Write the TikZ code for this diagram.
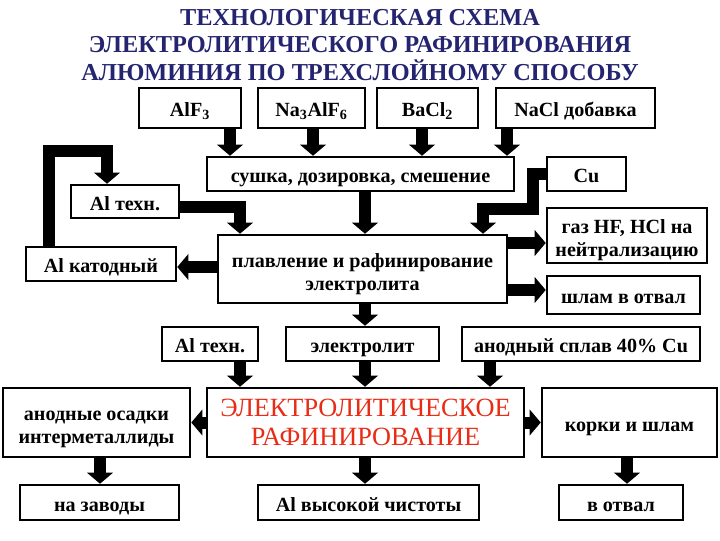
\documentclass[tikz,border=0pt]{standalone}
\usepackage{fontspec}
\setmainfont{Liberation Serif}
\usepackage{xcolor}
\usetikzlibrary{arrows.meta,positioning}
\definecolor{titleblue}{RGB}{36,36,112}
\definecolor{schemered}{RGB}{232,44,22}

\begin{document}
\begin{tikzpicture}[
    x=0.025cm, y=-0.025cm,
    box/.style={rectangle, draw=black, line width=1.8pt, fill=white, inner sep=1pt, align=center, font=\fontsize{14.3}{16.5}\selectfont\bfseries, execute at begin node={\rule{0pt}{1.09em}}, execute at end node={\rule[-0.22em]{0pt}{0.22em}}},
    twoline/.style={execute at begin node={\rule{0pt}{2.34em}}},
    arrow/.style={-{Triangle[length=0.28cm,width=0.66cm,line width=0pt]}, line width=0.3cm, line join=miter},
    title/.style={font=\fontsize{17.3}{19.6}\selectfont\bfseries, text=titleblue, align=center},
    redtext/.style={font=\fontsize{18.7}{20.6}\selectfont, text=schemered, execute at begin node={\rule{0pt}{2.0em}}}
  ]
    \fill[white] (0,0) rectangle (720,540);
    \useasboundingbox (0,0) rectangle (720,540);

    \node[title] (head) at (360,45) {ТЕХНОЛОГИЧЕСКАЯ СХЕМА\\ЭЛЕКТРОЛИТИЧЕСКОГО РАФИНИРОВАНИЯ\\АЛЮМИНИЯ ПО ТРЕХСЛОЙНОМУ СПОСОБУ};

    \node[box, minimum width=2.55cm, minimum height=1cm] (alf) at (190,108) {AlF\textsubscript{3}};
    \node[box, minimum width=2.675cm, minimum height=1cm] (kriolit) at (311.5,108) {Na\textsubscript{3}AlF\textsubscript{6}};
    \node[box, minimum width=2.525cm, minimum height=1cm] (bacl) at (427.5,108) {BaCl\textsubscript{2}};
    \node[box, minimum width=3.975cm, minimum height=1cm] (nacl) at (575.5,108) {NaCl добавка};

    \node[box, minimum width=7.675cm, minimum height=0.85cm] (sushka) at (360.5,174) {сушка, дозировка, смешение};
    \node[box, minimum width=1.975cm, minimum height=0.85cm] (cu) at (586.5,174) {Cu};
    \node[box, minimum width=2.7cm, minimum height=0.825cm] (altop) at (125,201.5) {Al техн.};
    \node[box, minimum width=3.75cm, minimum height=0.85cm] (alkat) at (101,264) {Al катодный};
    \node[box, twoline, minimum width=7.225cm, minimum height=1.7cm] (plav) at (362.5,269) {плавление и рафинирование\\электролита};
    \node[box, twoline, minimum width=4cm, minimum height=1.375cm] (gas) at (627,235.5) {газ HF, HCl на\\нейтрализацию};
    \node[box, minimum width=3.825cm, minimum height=0.95cm] (shlam) at (623.5,295) {шлам в отвал};

    \node[box, minimum width=2.4cm, minimum height=0.85cm] (allow) at (210,344) {Al техн.};
    \node[box, minimum width=3.825cm, minimum height=0.85cm] (elyt) at (362.5,344) {электролит};
    \node[box, minimum width=5.95cm, minimum height=0.85cm] (anod) at (581,344) {анодный сплав 40\% Cu};

    \node[box, redtext, minimum width=7.925cm, minimum height=1.725cm] (refin) at (365.5,422.5) {ЭЛЕКТРОЛИТИЧЕСКОЕ\\РАФИНИРОВАНИЕ};
    \node[box, twoline, minimum width=4.675cm, minimum height=1.725cm] (osad) at (96.5,422.5) {анодные осадки\\интерметаллиды};
    \node[box, minimum width=4.375cm, minimum height=1.725cm] (korki) at (629.5,422.5) {корки и шлам};

    \node[box, minimum width=3.975cm, minimum height=0.875cm] (zavody) at (99.5,502.5) {на заводы};
    \node[box, minimum width=5.525cm, minimum height=0.875cm] (vysok) at (368.5,502.5) {Al высокой чистоты};
    \node[box, minimum width=3.1cm, minimum height=0.875cm] (otval) at (621,502.5) {в отвал};

    \draw[arrow] (230,0 |- alf.south) -- (230,0 |- sushka.north);
    \draw[arrow] (313,0 |- kriolit.south) -- (313,0 |- sushka.north);
    \draw[arrow] (422,0 |- bacl.south) -- (422,0 |- sushka.north);
    \draw[arrow] (507,0 |- nacl.south) -- (507,0 |- sushka.north);

    \draw[arrow] (365,0 |- sushka.south) -- (365,0 |- plav.north);
    \draw[arrow] (cu.west) -| (533,209) -| (483,0 |- plav.north);
    \draw[arrow] ([yshift=-0.14cm]altop.east) -| (240,0 |- plav.north);
    \draw[arrow] (49,0 |- alkat.north) |- (107,151) -- (107,0 |- altop.north);

    \draw[arrow] (plav.west |- 0,267) -- (alkat.east |- 0,267);
    \draw[arrow] (plav.east |- 0,243) -- (gas.west |- 0,243);
    \draw[arrow] (plav.east |- 0,290) -- (shlam.west |- 0,290);

    \draw[arrow] (365,0 |- plav.south) -- (365,0 |- elyt.north);
    \draw[arrow] (240,0 |- allow.south) -- (240,0 |- refin.north);
    \draw[arrow] (365,0 |- elyt.south) -- (365,0 |- refin.north);
    \draw[arrow] (490,0 |- anod.south) -- (490,0 |- refin.north);

    \draw[arrow] (refin.west) -- (osad.east);
    \draw[arrow] (refin.east) -- (korki.west);

    \draw[arrow] (100,0 |- osad.south) -- (100,0 |- zavody.north);
    \draw[arrow] (365,0 |- refin.south) -- (365,0 |- vysok.north);
    \draw[arrow] (627,0 |- korki.south) -- (627,0 |- otval.north);
  \end{tikzpicture}
\end{document}
